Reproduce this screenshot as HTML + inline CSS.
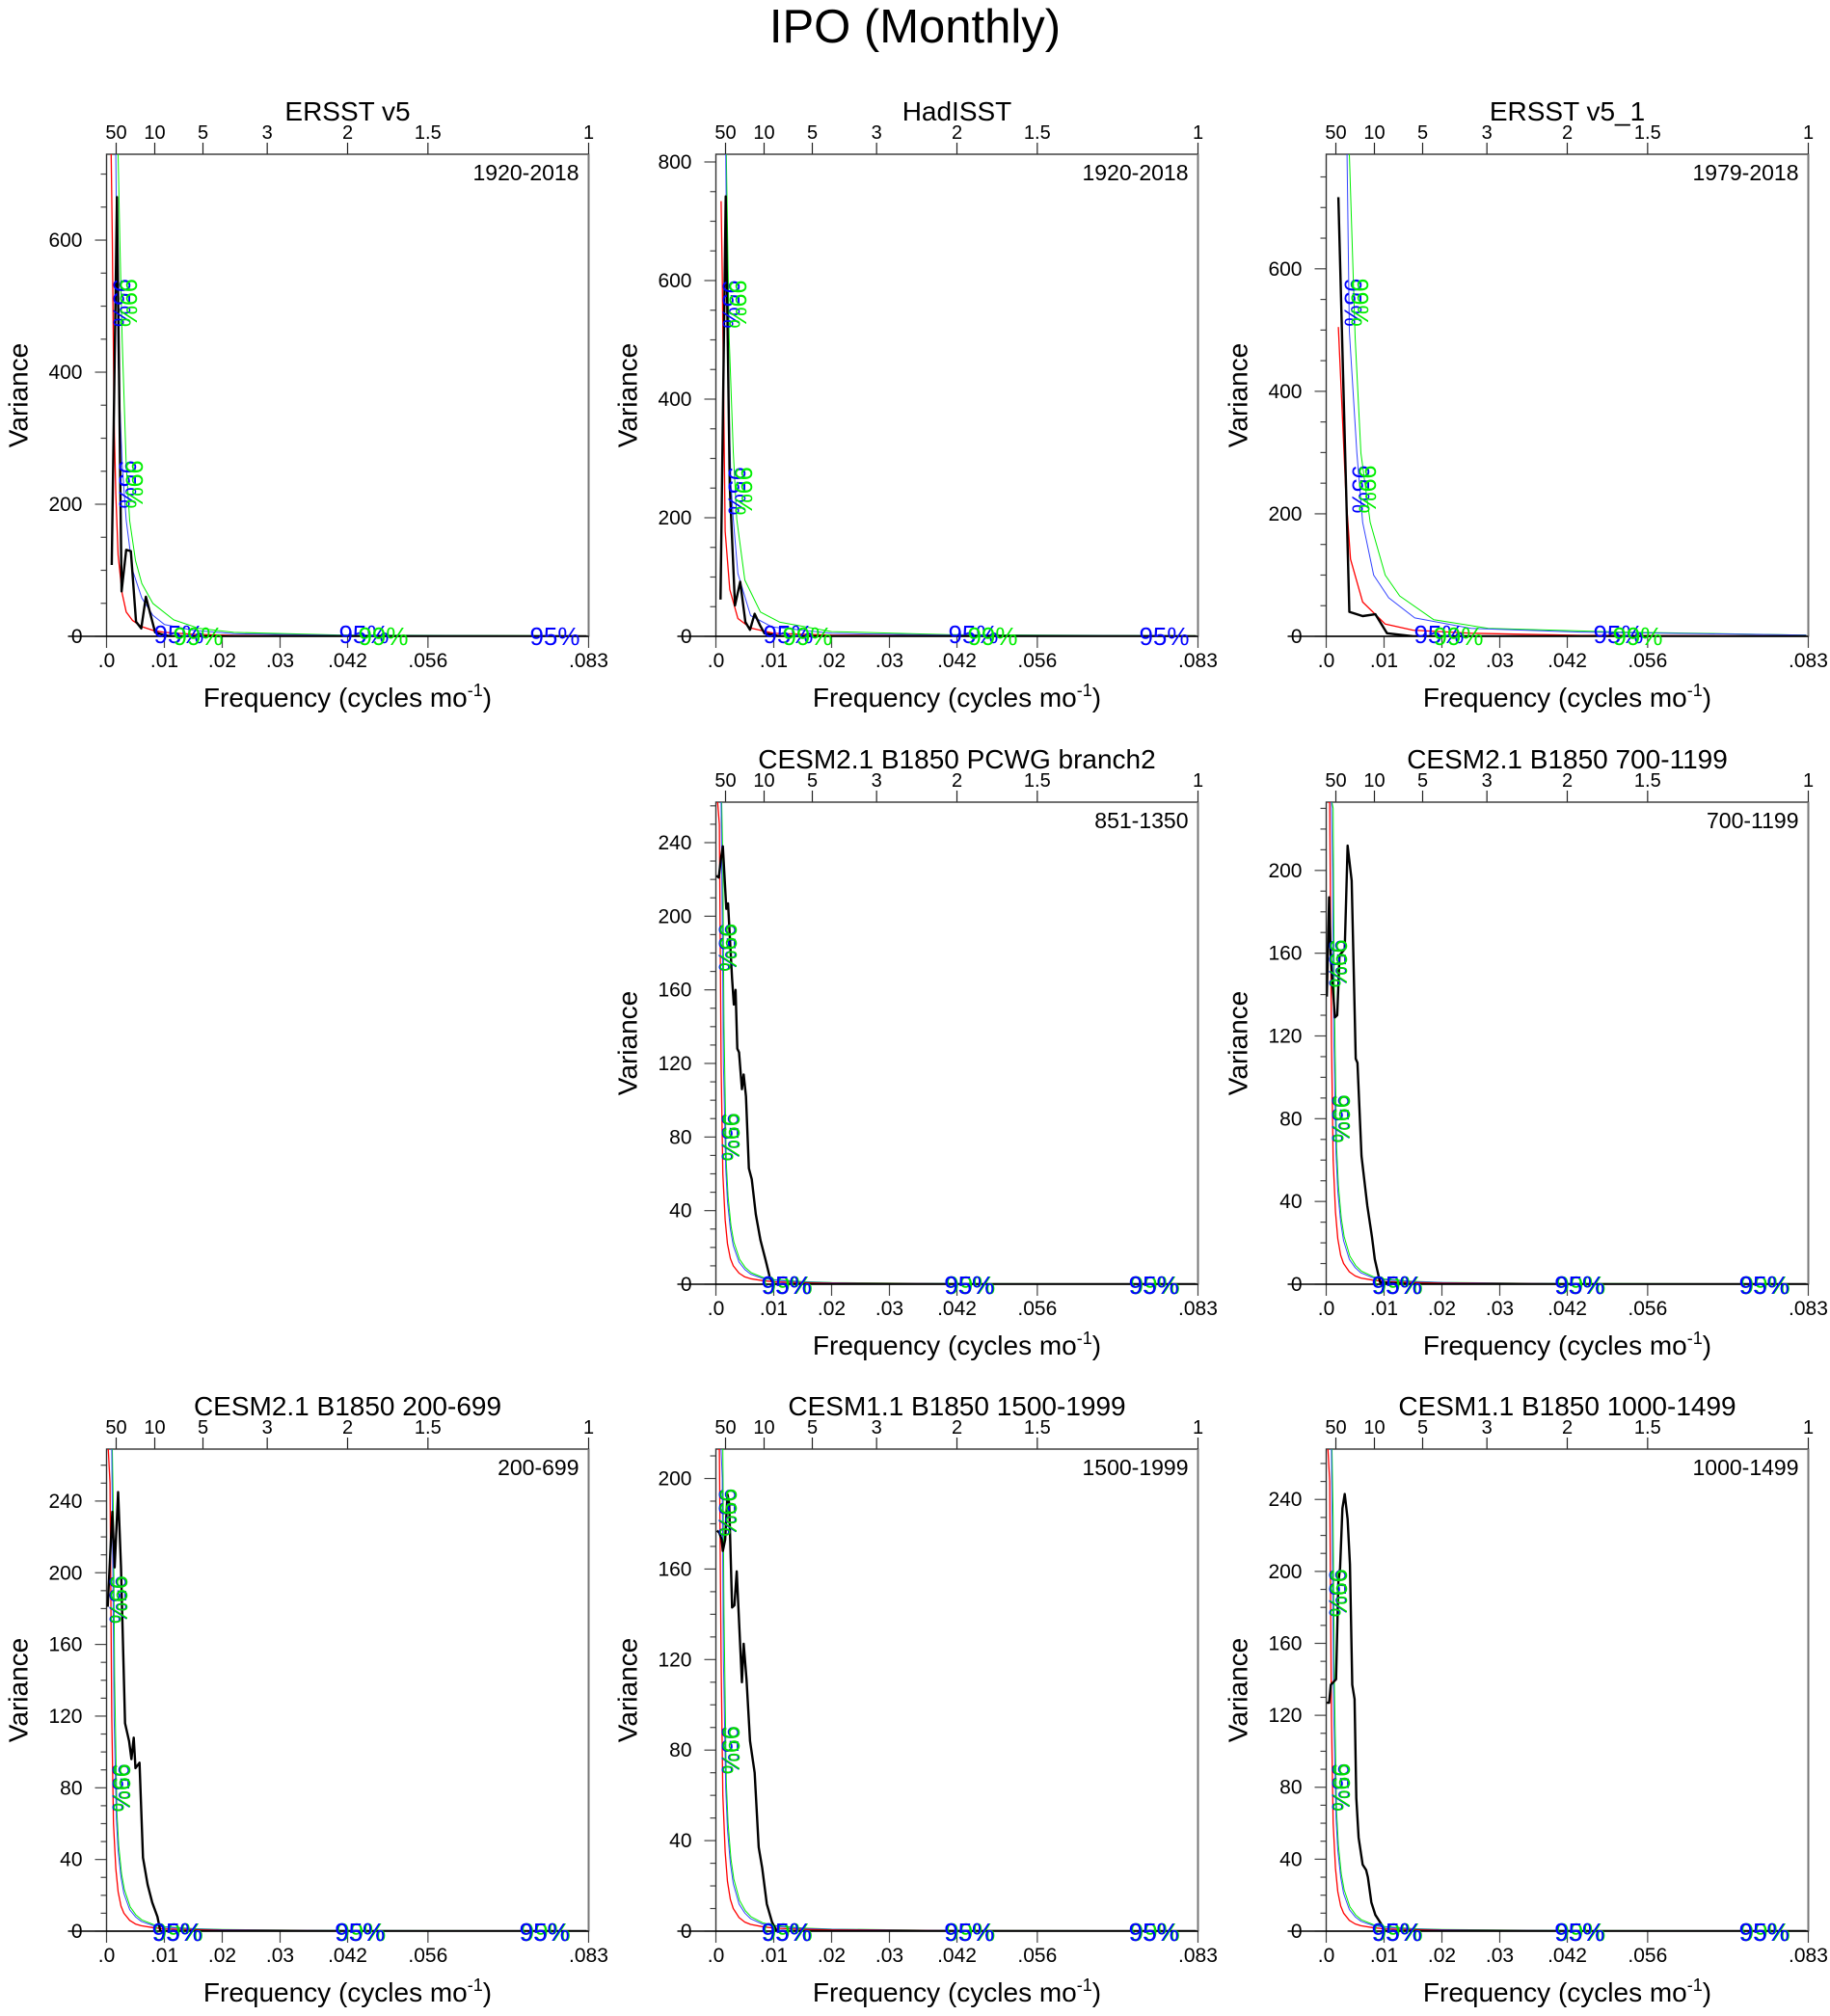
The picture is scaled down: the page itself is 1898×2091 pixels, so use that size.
<!DOCTYPE html>
<html><head><meta charset="utf-8"><style>
html,body{margin:0;padding:0;background:#fff;}
svg text{font-family:"Liberation Sans",sans-serif;}
</style></head><body>
<svg id="fig" width="1898" height="2086" viewBox="0 0 1898 2086" xmlns="http://www.w3.org/2000/svg">
<rect width="1898" height="2086" fill="#fff"/>
<text x="949" y="44" font-size="49" text-anchor="middle">IPO (Monthly)</text>
</svg>
<script>
// ---- data arrays ----
const xTickValues = [0, 0.01, 0.02, 0.03, 0.04167, 0.05556, 0.08333];
const xTickLabels = [".0", ".01", ".02", ".03", ".042", ".056", ".083"];
const topPeriods = [50, 10, 5, 3, 2, 1.5, 1];
const topLabels = ["50", "10", "5", "3", "2", "1.5", "1"];
const panelTitles = ["ERSST v5", "HadISST", "ERSST v5_1", "CESM2.1 B1850 PCWG branch2", "CESM2.1 B1850 700-1199", "CESM2.1 B1850 200-699", "CESM1.1 B1850 1500-1999", "CESM1.1 B1850 1000-1499"];
const panelPeriods = ["1920-2018", "1920-2018", "1979-2018", "851-1350", "700-1199", "200-699", "1500-1999", "1000-1499"];
const yMax = [730, 813, 787, 262, 233, 269, 213, 268];
const yStep = [200, 200, 200, 40, 40, 40, 40, 40];

// ERSST v5
const p1BlackF = [0.0009, 0.0018, 0.0026, 0.0034, 0.0042, 0.0051, 0.006, 0.0068, 0.0084, 0.0095, 0.011, 0.02, 0.04, 0.083];
const p1BlackV = [108, 665, 68, 131, 129, 22, 12, 60, 6, 3, 0, 0, 0, 0];
const p1RedF = [0.0008, 0.001, 0.0013, 0.0016, 0.002, 0.0027, 0.0034, 0.0045, 0.006, 0.008, 0.01, 0.015, 0.022, 0.04, 0.083];
const p1RedV = [900, 600, 330, 216, 123, 65, 37, 24, 15, 9, 6, 3, 1.5, 0.6, 0.3];
const p1BlueF = [0.0016, 0.0018, 0.002, 0.0027, 0.0034, 0.0045, 0.0061, 0.008, 0.01, 0.015, 0.022, 0.04, 0.083];
const p1BlueV = [750, 560, 420, 260, 176, 100, 58, 32, 18, 9, 4, 1.5, 0.6];
const p1GreenF = [0.002, 0.0023, 0.0027, 0.0034, 0.004, 0.005, 0.0061, 0.008, 0.0116, 0.016, 0.022, 0.04, 0.083];
const p1GreenV = [730, 600, 450, 260, 175, 115, 80, 50, 25, 12, 6, 2, 0.8];
// HadISST
const p2BlackF = [0.0008, 0.0017, 0.0024, 0.0033, 0.0042, 0.0051, 0.0059, 0.0067, 0.0076, 0.0084, 0.0097, 0.011, 0.02, 0.083];
const p2BlackV = [62, 742, 253, 52, 92, 24, 11, 38, 19, 5, 3, 0, 0, 0];
const p2RedF = [0.0009, 0.0011, 0.0016, 0.0024, 0.0038, 0.006, 0.01, 0.02, 0.04, 0.083];
const p2RedV = [734, 611, 177, 79, 30, 14, 5, 2, 0.8, 0.3];
const p2BlueF = [0.0017, 0.002, 0.0026, 0.003, 0.0038, 0.006, 0.0097, 0.02, 0.04, 0.083];
const p2BlueV = [813, 503, 258, 198, 106, 35, 16, 5, 2, 0.8];
const p2GreenF = [0.0018, 0.0023, 0.003, 0.0036, 0.005, 0.0077, 0.011, 0.02, 0.04, 0.083];
const p2GreenV = [813, 503, 312, 198, 95, 41, 24, 8, 3, 1];
// ERSST v5_1
const p3BlackF = [0.0021, 0.004, 0.0063, 0.0085, 0.0105, 0.015, 0.04, 0.083];
const p3BlackV = [717, 40, 33, 36, 5, 0, 0, 0];
const p3RedF = [0.0021, 0.0034, 0.0042, 0.0063, 0.0102, 0.015, 0.025, 0.044, 0.083];
const p3RedV = [505, 232, 126, 56, 20, 10, 5, 1.5, 0.5];
const p3BlueF = [0.0036, 0.004, 0.0053, 0.0063, 0.0082, 0.0108, 0.0153, 0.025, 0.044, 0.083];
const p3BlueV = [787, 498, 299, 186, 100, 63, 30, 13, 7, 2];
const p3GreenF = [0.004, 0.005, 0.006, 0.0076, 0.0102, 0.0127, 0.0186, 0.028, 0.051, 0.083];
const p3GreenV = [787, 488, 299, 186, 100, 66, 27, 13, 7, 2];
// CESM2.1 PCWG branch2
const p4BlackF = [0.0001, 0.0005, 0.0009, 0.0012, 0.0018, 0.0021, 0.0028, 0.0031, 0.0034, 0.0037, 0.004, 0.0045, 0.0048, 0.0052, 0.0057, 0.0062, 0.0069, 0.0077, 0.0086, 0.0093, 0.01, 0.083];
const p4BlackV = [222, 221, 232, 238, 204, 207, 166, 152, 160, 128, 126, 106, 114, 102, 63, 57, 38, 24, 13, 4, 0, 0];
// CESM2.1 700-1199
const p5BlackF = [0.0001, 0.0005, 0.0008, 0.0015, 0.0019, 0.0023, 0.0032, 0.0037, 0.0044, 0.0051, 0.0054, 0.0061, 0.0071, 0.0079, 0.0084, 0.0093, 0.0145, 0.083];
const p5BlackV = [139, 187, 157, 129, 130, 159, 162, 212, 195, 109, 107, 62, 38, 23, 12, 1, 0, 0];
// CESM2.1 200-699
const p6BlackF = [0.0002, 0.001, 0.0014, 0.002, 0.0025, 0.0032, 0.0039, 0.0043, 0.0047, 0.005, 0.0057, 0.0063, 0.0071, 0.0079, 0.0088, 0.0093, 0.083];
const p6BlackV = [181, 234, 203, 245, 203, 116, 106, 96, 108, 91, 94, 41, 26, 16, 8, 0, 0];
// CESM1.1 1500-1999
const p7BlackF = [0.0002, 0.0006, 0.001, 0.0012, 0.0016, 0.002, 0.0023, 0.0028, 0.0032, 0.0036, 0.004, 0.0045, 0.0048, 0.0053, 0.0059, 0.0067, 0.0074, 0.008, 0.0088, 0.0097, 0.0105, 0.083];
const p7BlackV = [177, 176, 173, 168, 173, 193, 189, 143, 144, 159, 137, 110, 127, 111, 84, 70, 37, 28, 12, 4, 0, 0];
// CESM1.1 1000-1499
const p8BlackF = [0.0001, 0.0005, 0.0008, 0.0014, 0.0017, 0.0021, 0.0024, 0.0028, 0.0032, 0.0037, 0.0041, 0.0045, 0.0049, 0.0052, 0.0056, 0.0063, 0.0069, 0.0072, 0.0078, 0.0085, 0.0095, 0.0102, 0.083];
const p8BlackV = [127, 127, 137, 139, 140, 194, 202, 235, 243, 229, 204, 137, 129, 74, 52, 37, 34, 30, 16, 9, 4, 0, 0];
// CESM red-noise and significance curves
const cesmRedF = [0.0003, 0.0006, 0.0009, 0.0012, 0.0016, 0.002, 0.0025, 0.003, 0.004, 0.005, 0.006, 0.008, 0.01, 0.015, 0.02, 0.04, 0.083];
const cesmRedV = [600, 250, 120, 60, 35, 22, 14, 10, 6, 4, 3, 2, 1.3, 0.8, 0.5, 0.2, 0.1];
const cesmBlueF = [0.0009, 0.0011, 0.0013, 0.0017, 0.002, 0.0025, 0.003, 0.004, 0.005, 0.006, 0.008, 0.01, 0.015, 0.02, 0.04, 0.083];
const cesmBlueV = [400, 200, 120, 63, 45, 30, 21, 12, 8, 5.5, 3.2, 2.2, 1.2, 0.8, 0.3, 0.15];
const cesmGreenF = [0.001, 0.0012, 0.0014, 0.0018, 0.0021, 0.0026, 0.0031, 0.0041, 0.0051, 0.0061, 0.0081, 0.0101, 0.015, 0.02, 0.04, 0.083];
const cesmGreenV = [450, 230, 140, 66, 48, 32, 23, 13.5, 9, 6.3, 3.7, 2.5, 1.4, 0.9, 0.35, 0.17];

const panelBlackF = [p1BlackF, p2BlackF, p3BlackF, p4BlackF, p5BlackF, p6BlackF, p7BlackF, p8BlackF];
const panelBlackV = [p1BlackV, p2BlackV, p3BlackV, p4BlackV, p5BlackV, p6BlackV, p7BlackV, p8BlackV];
const panelRedF = [p1RedF, p2RedF, p3RedF, cesmRedF, cesmRedF, cesmRedF, cesmRedF, cesmRedF];
const panelRedV = [p1RedV, p2RedV, p3RedV, cesmRedV, cesmRedV, cesmRedV, cesmRedV, cesmRedV];
const panelBlueF = [p1BlueF, p2BlueF, p3BlueF, cesmBlueF, cesmBlueF, cesmBlueF, cesmBlueF, cesmBlueF];
const panelBlueV = [p1BlueV, p2BlueV, p3BlueV, cesmBlueV, cesmBlueV, cesmBlueV, cesmBlueV, cesmBlueV];
const panelGreenF = [p1GreenF, p2GreenF, p3GreenF, cesmGreenF, cesmGreenF, cesmGreenF, cesmGreenF, cesmGreenF];
const panelGreenV = [p1GreenV, p2GreenV, p3GreenV, cesmGreenV, cesmGreenV, cesmGreenV, cesmGreenV, cesmGreenV];
// significance label anchors (freq, variance)
const obsVertLabelF = [[0.0018, 0.0028], [0.0018, 0.0028], [0.0038, 0.0052]];
const obsVertLabelV = [[505, 230], [560, 245], [545, 240]];
const obsHorzLabelF = [[0.0145, 0.0465, 0.0775], [0.0145, 0.0465, 0.0775], [0.0215, 0.0525]];
const cesmVertLabelV = [[183, 80], [155, 80], [185, 80], [185, 80], [188, 80]];
const cesmHorzLabelF = [0.0122, 0.0438, 0.0757];

// ---- layout ----
const colL = [110.5, 742.5, 1375.5];
const rowT = [160, 832, 1503];
const W = 500, H = 500, FMAX = 1/12;
const panelPos = [[0,0],[1,0],[2,0],[1,1],[2,1],[0,2],[1,2],[2,2]];
const svg = document.getElementById('fig');
const NS = 'http://www.w3.org/2000/svg';
function mk(tag, attrs, parent) {
  const e = document.createElementNS(NS, tag);
  for (const k in attrs) e.setAttribute(k, attrs[k]);
  (parent || svg).appendChild(e);
  return e;
}

panelTitles.forEach((title, i) => {
  const L = colL[panelPos[i][0]], T = rowT[panelPos[i][1]];
  const g = mk('g', {});
  
  
  const xs = f => L + (f / FMAX) * W;
  const ys = v => T + H - (Math.min(v, yMax[i] * 1.0) / yMax[i]) * H;
  const cid = 'clip' + i;
  const cp = mk('clipPath', { id: cid }, g);
  mk('rect', { x: L, y: T, width: W, height: H }, cp);

  const tt = mk('text', { x: L + W / 2, y: T - 35, 'font-size': 28, 'text-anchor': 'middle' }, g);
  tt.textContent = title;
  
  
  const pt = mk('text', { x: L + W - 10, y: T + 27, 'font-size': 23, 'text-anchor': 'end' }, g);
  pt.textContent = panelPeriods[i];
  
  

  const minorStep = yStep[i] / 4;
  for (let v = 0; v <= yMax[i] + 0.01; v += minorStep) {
    const major = Math.abs(v / yStep[i] - Math.round(v / yStep[i])) < 1e-6;
    mk('line', { x1: L - (major ? 12 : 6), x2: L, y1: ys(v), y2: ys(v), stroke: '#444', 'stroke-width': 1.2 }, g);
    if (major) {
      const t = mk('text', { x: L - 25, y: ys(v) + 7, 'font-size': 21, 'text-anchor': 'end' }, g);
      t.textContent = String(Math.round(v));
      
      
    }
  }
  xTickValues.forEach((f, k) => {
    mk('line', { x1: xs(f), x2: xs(f), y1: T + H, y2: T + H + 12, stroke: '#444', 'stroke-width': 1.2 }, g);
    const t = mk('text', { x: xs(f), y: T + H + 32, 'font-size': 21, 'text-anchor': 'middle' }, g);
    t.textContent = xTickLabels[k];
    
    
  });
  topPeriods.forEach((p, k) => {
    const f = 1 / (12 * p);
    mk('line', { x1: xs(f), x2: xs(f), y1: T - 12, y2: T, stroke: '#222', 'stroke-width': 1.2 }, g);
    const t = mk('text', { x: xs(f), y: T - 16, 'font-size': 20, 'text-anchor': 'middle' }, g);
    t.textContent = topLabels[k];
    
    
  });
  mk('rect', { x: L, y: T, width: W, height: H, fill: 'none', stroke: '#333', 'stroke-width': 1.4 }, g);
  mk('line', { x1: L + W, x2: L + W, y1: T, y2: T + H, stroke: '#777', 'stroke-width': 2 }, g);
  mk('line', { x1: L - 40, x2: L + W, y1: T + H, y2: T + H, stroke: '#000', 'stroke-width': 1.6 }, g);

  const inner = mk('g', { 'clip-path': 'url(#' + cid + ')' }, g);
  const line = (F, V, color, w, name) => {
    const d = F.map((f, k) => (k ? 'L' : 'M') + xs(f).toFixed(1) + ' ' + ys(V[k]).toFixed(1)).join(' ');
    const p = mk('path', { d: d, fill: 'none', stroke: color, 'stroke-width': w, 'stroke-linejoin': 'round' }, inner);
    
    
  };
  line(panelGreenF[i], panelGreenV[i], '#00ee00', 1, 'confidence-99-line');
  line(panelBlueF[i], panelBlueV[i], '#3344ff', 1, 'confidence-95-line');
  line(panelRedF[i], panelRedV[i], '#ff0000', 1.3, 'red-noise-line');
  line(panelBlackF[i], panelBlackV[i], '#000', 2.4, 'spectrum-line');

  const vlab = (x, y, txt, color) => {
    const t = mk('text', { x: x, y: y, 'font-size': 25, fill: color, transform: 'rotate(90 ' + x + ' ' + y + ')', 'text-anchor': 'middle' }, g);
    t.textContent = txt;
    
    
  };
  const hlab = (x, y, txt, color) => {
    const t = mk('text', { x: x, y: y, 'font-size': 26, fill: color, 'text-anchor': 'middle' }, g);
    t.textContent = txt;
    
    
  };
  if (i < 3) {
    obsVertLabelF[i].forEach((f, k) => {
      const v = obsVertLabelV[i][k];
      vlab(xs(f) - 4, ys(v), '95%', '#0000ff');
      vlab(xs(f) + 3, ys(v), '99%', '#00ee00');
    });
    obsHorzLabelF[i].forEach((f, k) => {
      if (k === 2) { hlab(xs(f), T + H + 9, '95%', '#0000ff'); }
      else { hlab(xs(f) - 12, T + H + 7, '95%', '#0000ff'); hlab(xs(f) + 8, T + H + 9, '99%', '#00ee00'); }
    });
  } else {
    cesmVertLabelV[i - 3].forEach((v, k) => {
      const f = k === 0 ? 0.0007 : 0.0012;
      vlab(xs(f) - 1, ys(v), '95%', '#0000ff');
      vlab(xs(f), ys(v), '99%', '#00dd00');
    });
    cesmHorzLabelF.forEach(f => {
      hlab(xs(f), T + H + 10, '95%', '#0000ff');
      hlab(xs(f) + 1, T + H + 10, '99%', '#00dd00');
      hlab(xs(f), T + H + 10, '95%', '#0000ff');
    });
  }

  const xt = mk('text', { x: L + W / 2, y: T + H + 73, 'font-size': 28, 'text-anchor': 'middle' }, g);
  xt.innerHTML = 'Frequency (cycles mo<tspan dy="-11" font-size="18">-1</tspan><tspan dy="11">)</tspan>';
  
  
  const yx = L - 82, yy = T + H / 2;
  const yt = mk('text', { x: yx, y: yy, 'font-size': 28, 'text-anchor': 'middle', transform: 'rotate(-90 ' + yx + ' ' + yy + ')' }, g);
  yt.textContent = 'Variance';
  
  
});
</script>
</body></html>
